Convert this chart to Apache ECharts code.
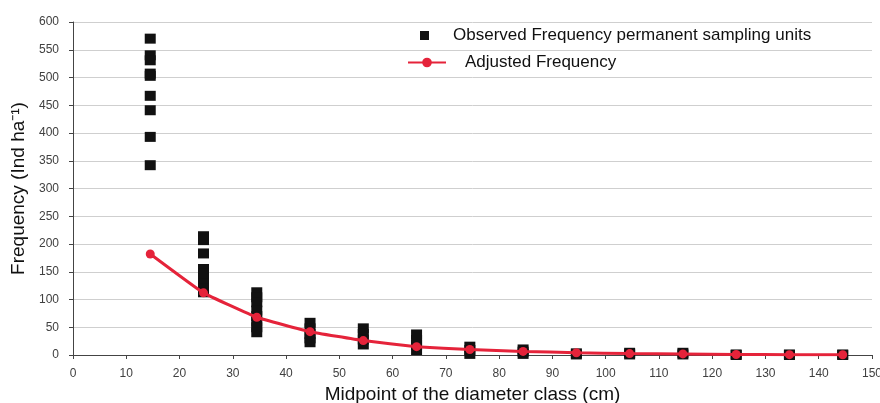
<!DOCTYPE html>
<html>
<head>
<meta charset="utf-8">
<script src="https://cdn.jsdelivr.net/npm/echarts@6/dist/echarts.min.js"></script>
<style>html,body{margin:0;padding:0;background:#fff;}#c{width:880px;height:403px;}</style>
</head>
<body>
<div id="c"></div>
<script>
// Diameter class midpoints (cm)
const classMidpoints = [14.5, 24.5, 34.5, 44.5, 54.5, 64.5, 74.5, 84.5, 94.5, 104.5, 114.5, 124.5, 134.5, 144.5];
// Observed frequencies in permanent sampling units, per class
const observed145 = [570, 540, 531, 507, 503, 467, 441, 393, 342];
const observed245 = [214, 207, 183, 155, 147, 138, 128, 119, 113];
const observed345 = [113, 104, 95, 80, 70, 60, 50, 41];
const observed445 = [58, 48, 38, 30, 23];
const observed545 = [48, 38, 28, 19];
const observed645 = [37, 27, 18, 9];
const observed745 = [15, 9, 2];
const observed845 = [10, 6, 2];
const observed945 = [3, 1];
const observed1045 = [4, 1];
const observed1145 = [4, 1];
const observed1245 = [1, 0];
const observed1345 = [1, 0];
const observed1445 = [1, 0];
// Adjusted frequency
const adjusted = [182, 112, 68, 42, 26, 15, 10, 6.5, 4, 2.5, 2, 1, 0.6, 0.4];
// Axis ticks
const xTicks = { min: 0, max: 150, interval: 10 };
const yTicks = { min: 0, max: 600, interval: 50 };

const observedGroups = [observed145, observed245, observed345, observed445, observed545, observed645,
  observed745, observed845, observed945, observed1045, observed1145, observed1245, observed1345, observed1445];
const scatterData = [];
observedGroups.forEach((g, i) => g.forEach(v => scatterData.push([classMidpoints[i], v])));
const lineData = classMidpoints.map((x, i) => [x, adjusted[i]]);

const FONT = "'Liberation Sans', Arial, sans-serif";
const chart = echarts.init(document.getElementById('c'), null, { renderer: 'canvas' });
chart.setOption({
  animation: false,
  backgroundColor: '#ffffff',
  graphic: [{
    type: 'text', left: 573, top: -16,
    style: { text: '(b)', font: '17px ' + FONT, fill: '#222' }
  }],
  grid: { left: 73, right: 8, top: 22, bottom: 48, outerBoundsMode: 'none', containLabel: false },
  legend: [
    {
      data: [{ name: 'Observed Frequency permanent sampling units', icon: 'rect' }],
      left: 420, top: 27, padding: 0,
      itemWidth: 9, itemHeight: 9,
      textStyle: { fontFamily: FONT, fontSize: 17, color: '#111', padding: [0, 0, 0, 19] }
    },
    {
      data: ['Adjusted Frequency'],
      left: 407, top: 54, padding: 0,
      itemWidth: 38, itemHeight: 12,
      textStyle: { fontFamily: FONT, fontSize: 17, color: '#111', padding: [0, 0, 0, 14] }
    }
  ],
  xAxis: {
    type: 'value', min: xTicks.min, max: xTicks.max, interval: xTicks.interval,
    name: 'Midpoint of the diameter class (cm)', nameLocation: 'middle', nameGap: 29,
    nameTextStyle: { fontFamily: FONT, fontSize: 19, color: '#111' },
    axisLine: { lineStyle: { color: '#444', width: 1 } },
    axisTick: { show: true, length: 4, lineStyle: { color: '#444' } },
    axisLabel: { fontFamily: FONT, fontSize: 12, color: '#404040', margin: 13 },
    splitLine: { show: false }
  },
  yAxis: {
    type: 'value', min: yTicks.min, max: yTicks.max, interval: yTicks.interval,
    name: 'Frequency (Ind ha\u207B\u00B9)', nameLocation: 'middle', nameGap: 42,
    nameTextStyle: { fontFamily: FONT, fontSize: 19, color: '#111' },
    axisLine: { show: true, lineStyle: { color: '#444', width: 1 } },
    axisTick: { show: true, length: 4, lineStyle: { color: '#444' } },
    axisLabel: { fontFamily: FONT, fontSize: 12, color: '#404040', margin: 14 },
    splitLine: { show: true, lineStyle: { color: '#cfcfcf', width: 1 } }
  },
  series: [
    {
      name: 'Observed Frequency permanent sampling units',
      type: 'scatter',
      symbol: 'rect',
      symbolSize: [11, 10],
      itemStyle: { color: '#111111', opacity: 1 },
      data: scatterData,
      z: 2
    },
    {
      name: 'Adjusted Frequency',
      type: 'line',
      smooth: 0.1,
      symbol: 'circle',
      symbolSize: 9,
      lineStyle: { color: '#e5233a', width: 3 },
      itemStyle: { color: '#e5233a' },
      data: lineData,
      z: 3
    }
  ]
});
</script>
</body>
</html>
